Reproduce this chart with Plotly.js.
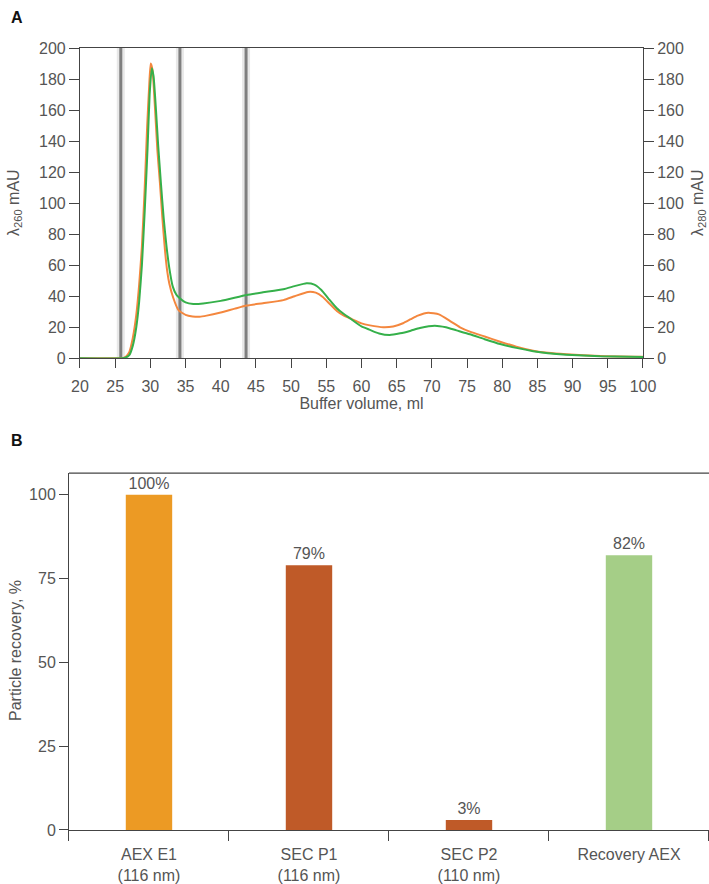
<!DOCTYPE html>
<html>
<head>
<meta charset="utf-8">
<script src="https://cdn.plot.ly/plotly-3.0.1.min.js"></script>
<style>html,body{margin:0;padding:0;background:#fff;}#chart{width:709px;height:884px;}</style>
</head>
<body>
<div id="chart"></div>
<script>
// Panel A: chromatogram
const orangeX = [20, 25, 26, 26.5, 27, 27.5, 28, 28.4, 28.8, 29.2, 29.55, 29.85, 30.05, 30.3, 30.7, 31.0, 31.36, 31.7, 32.07, 32.4, 32.7, 33.25, 34.0, 35, 36, 37, 38, 40, 42, 43.7, 46, 48.9, 50.5, 52.4, 53.5, 54.5, 55.5, 56.5, 57.5, 58.35, 60, 61.2, 63.1, 64.5, 65.9, 67, 68, 69.5, 71, 72.6, 74, 75.4, 77.5, 79.7, 82, 84.4, 86.5, 89.1, 93.9, 100];
const orangeY = [0, 0, 0, 1, 4, 13, 28, 47, 72, 110, 150, 177, 190, 186, 158, 134, 113, 91, 70, 56, 48, 39, 31, 28, 27, 26.8, 27.5, 29.5, 32, 34, 35.5, 37.5, 40, 42.8, 42.3, 39.5, 35, 30.5, 27.5, 25.8, 22.5, 21.2, 20, 20.5, 22.6, 25.2, 27.5, 29.4, 28.3, 24, 20, 17.2, 14, 10.7, 7.5, 4.9, 3.5, 2.6, 1.5, 1];
const greenX = [20, 26, 26.5, 27, 27.5, 28, 28.4, 28.8, 29.2, 29.6, 29.9, 30.2, 30.45, 30.8, 31.1, 31.5, 31.9, 32.3, 32.7, 33.2, 33.7, 34.1, 35, 36.1, 37.5, 40, 43.7, 46, 48.9, 50.5, 52.2, 53.3, 54.3, 55.3, 56.5, 57.5, 58.35, 60, 61.2, 62.5, 64, 65.5, 67, 68.3, 70.4, 72, 73.5, 75.4, 77.5, 79.7, 82, 84.4, 86.5, 89.1, 93.9, 100];
const greenY = [0, 0, 0.5, 2, 8, 20, 36, 60, 95, 135, 170, 187, 182, 160, 138, 113, 90, 72, 58, 46, 41, 39, 36, 35, 35.3, 37, 40.8, 42.5, 44.5, 46.5, 48.4, 47.5, 44, 38.5, 32.2, 28.5, 25.8, 20.5, 18.3, 16, 15, 16.1, 17.8, 19.5, 21, 20, 18, 15.5, 12.3, 9.2, 6.7, 4.6, 3.3, 2.3, 1.3, 0.8];
const fractionMarks = [25.8, 34.2, 43.6];
const yTicksA = [0, 20, 40, 60, 80, 100, 120, 140, 160, 180, 200];
const xTicksA = [20, 25, 30, 35, 40, 45, 50, 55, 60, 65, 70, 75, 80, 85, 90, 95, 100];

// Panel B: recovery bars
const categories = ["AEX E1<br>(116 nm)", "SEC P1<br>(116 nm)", "SEC P2<br>(110 nm)", "Recovery AEX"];
const recovery = [100, 79, 3, 82];
const recoveryLabels = ["100%", "79%", "3%", "82%"];
const barColors = ["#EC9A24", "#BF5A28", "#BF5A28", "#A5CE87"];
const yTicksB = [0, 25, 50, 75, 100];

const FONT = "Liberation Sans, Arial, sans-serif";
const TXT = "#555555";
const AX = "#444444";
const FS = 16;

const traces = [];
fractionMarks.forEach(function (v) {
  traces.push({x: [v, v], y: [0, 200], mode: "lines", line: {color: "rgba(190,190,190,0.35)", width: 8},
    xaxis: "x", yaxis: "y", hoverinfo: "skip", showlegend: false});
  traces.push({x: [v, v], y: [0, 200], mode: "lines", line: {color: "#7f7f7f", width: 3},
    xaxis: "x", yaxis: "y", hoverinfo: "skip", showlegend: false});
});
traces.push({x: orangeX, y: orangeY, mode: "lines", line: {color: "#F4873E", width: 2, shape: "spline", smoothing: 0.5},
  xaxis: "x", yaxis: "y", showlegend: false});
traces.push({x: greenX, y: greenY, mode: "lines", line: {color: "#35B04A", width: 2, shape: "spline", smoothing: 0.5},
  xaxis: "x", yaxis: "y3", showlegend: false});
traces.push({type: "bar", x: categories, y: recovery, text: recoveryLabels, textposition: "outside",
  textfont: {family: FONT, size: FS, color: TXT}, cliponaxis: false,
  marker: {color: barColors}, width: 0.29, xaxis: "x2", yaxis: "y2", showlegend: false});

const tickFont = {family: FONT, size: FS, color: TXT};

const layout = {
  width: 709, height: 884,
  margin: {l: 0, r: 0, t: 0, b: 0},
  paper_bgcolor: "#fff", plot_bgcolor: "#fff",
  showlegend: false,
  xaxis: {domain: [0.1128, 0.9069], anchor: "y", range: [20, 100], tickvals: xTicksA,
    showgrid: false, zeroline: false, showline: true, mirror: true, linecolor: AX, linewidth: 1,
    ticks: "outside", ticklen: 9, tickcolor: AX, tickfont: tickFont, ticklabelstandoff: 5,
    title: {text: "Buffer volume, ml", font: {family: FONT, size: FS, color: TXT}, standoff: 2}},
  yaxis: {domain: [0.5947, 0.9457], anchor: "x", range: [0, 200], tickvals: yTicksA,
    showgrid: false, zeroline: false, showline: true, linecolor: AX, linewidth: 1,
    ticks: "outside", ticklen: 10, tickcolor: AX, tickfont: tickFont},
  yaxis3: {overlaying: "y", side: "right", anchor: "x", range: [0, 200], tickvals: yTicksA,
    showgrid: false, zeroline: false, showline: true, linecolor: AX, linewidth: 1,
    ticks: "outside", ticklen: 10, tickcolor: AX, tickfont: tickFont},
  xaxis2: {domain: [0.0973, 1.0], anchor: "y2", type: "category", tickson: "boundaries",
    showgrid: false, zeroline: false, showline: true, linecolor: AX, linewidth: 1,
    ticks: "outside", ticklen: 10, tickcolor: AX, tickfont: tickFont, ticklabelstandoff: 10},
  yaxis2: {domain: [0.0611, 0.4649], anchor: "x2", range: [0, 106.5], tickvals: yTicksB,
    showgrid: false, zeroline: false, showline: true, linecolor: AX, linewidth: 1,
    ticks: "outside", ticklen: 9, tickcolor: AX, tickfont: tickFont},
  shapes: [
    {type: "line", xref: "paper", yref: "paper", x0: 0.0973, x1: 1.0, y0: 0.4649, y1: 0.4649,
      line: {color: AX, width: 1.2}}
  ],
  annotations: [
    {text: "<b>A</b>", xref: "paper", yref: "paper", x: 0.012, y: 0.992, xanchor: "left", yanchor: "top",
      showarrow: false, font: {family: FONT, size: 16, color: "#111"}},
    {text: "<b>B</b>", xref: "paper", yref: "paper", x: 0.012, y: 0.514, xanchor: "left", yanchor: "top",
      showarrow: false, font: {family: FONT, size: 16, color: "#111"}},
    {text: "λ<sub>260</sub> mAU", xref: "paper", yref: "paper", x: 15 / 709, y: 1 - 203 / 884,
      xanchor: "center", yanchor: "middle", textangle: -90, showarrow: false,
      font: {family: FONT, size: FS, color: TXT}},
    {text: "λ<sub>280</sub> mAU", xref: "paper", yref: "paper", x: 699 / 709, y: 1 - 203 / 884,
      xanchor: "center", yanchor: "middle", textangle: -90, showarrow: false,
      font: {family: FONT, size: FS, color: TXT}},
    {text: "Particle recovery, %", xref: "paper", yref: "paper", x: 15 / 709, y: 1 - 651 / 884,
      xanchor: "center", yanchor: "middle", textangle: -90, showarrow: false,
      font: {family: FONT, size: FS, color: TXT}}
  ]
};

Plotly.newPlot("chart", traces, layout, {displayModeBar: false, staticPlot: true});
</script>
</body>
</html>
